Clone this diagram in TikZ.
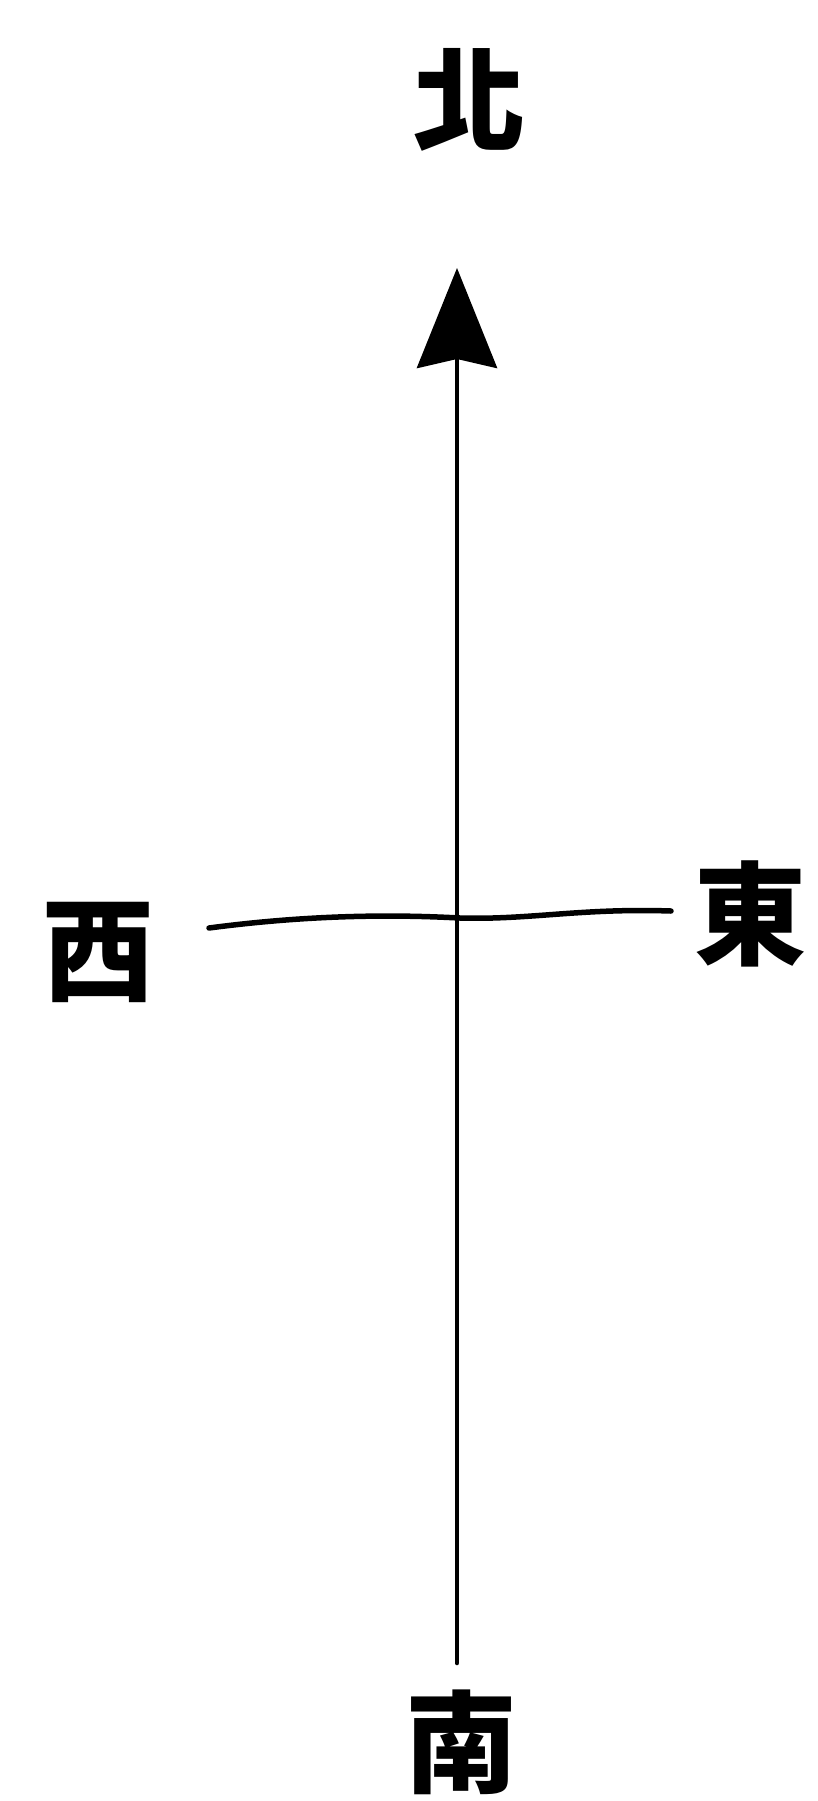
\documentclass[tikz,border=0pt]{standalone}
\usepackage{fontspec}
\newfontfamily\cjk{Noto Sans CJK TC Black}
\usetikzlibrary{arrows.meta}
\tikzset{
  dirlabel/.style={inner sep=0pt, font=\cjk\fontsize{112}{112}\selectfont},
  axis/.style={line width=4.5pt, line cap=round},
}
\begin{document}
\begin{tikzpicture}[x=1pt,y=-1pt]
\useasboundingbox[fill=white] (0,0) rectangle (818,1801);
\node[dirlabel] (north) at (469,100) {北};
\node[dirlabel] (south) at (461,1742) {南};
\node[dirlabel] (west) at (98,952) {西};
\node[dirlabel] (east) at (750,914) {東};
\coordinate (tip) at (457,268);
\coordinate (bottom) at (457,1663);
\coordinate (wl) at (209,928);
\coordinate (el) at (671,911);
\draw[axis, -{Stealth[length=100pt,width=80pt,inset=9pt]}] (bottom) -- (tip);
\draw[line width=5.5pt, line cap=round] (wl) .. controls (330,912) and (420,916) .. (460,918) .. controls (530,920) and (580,908) .. (el);
\end{tikzpicture}
\end{document}
